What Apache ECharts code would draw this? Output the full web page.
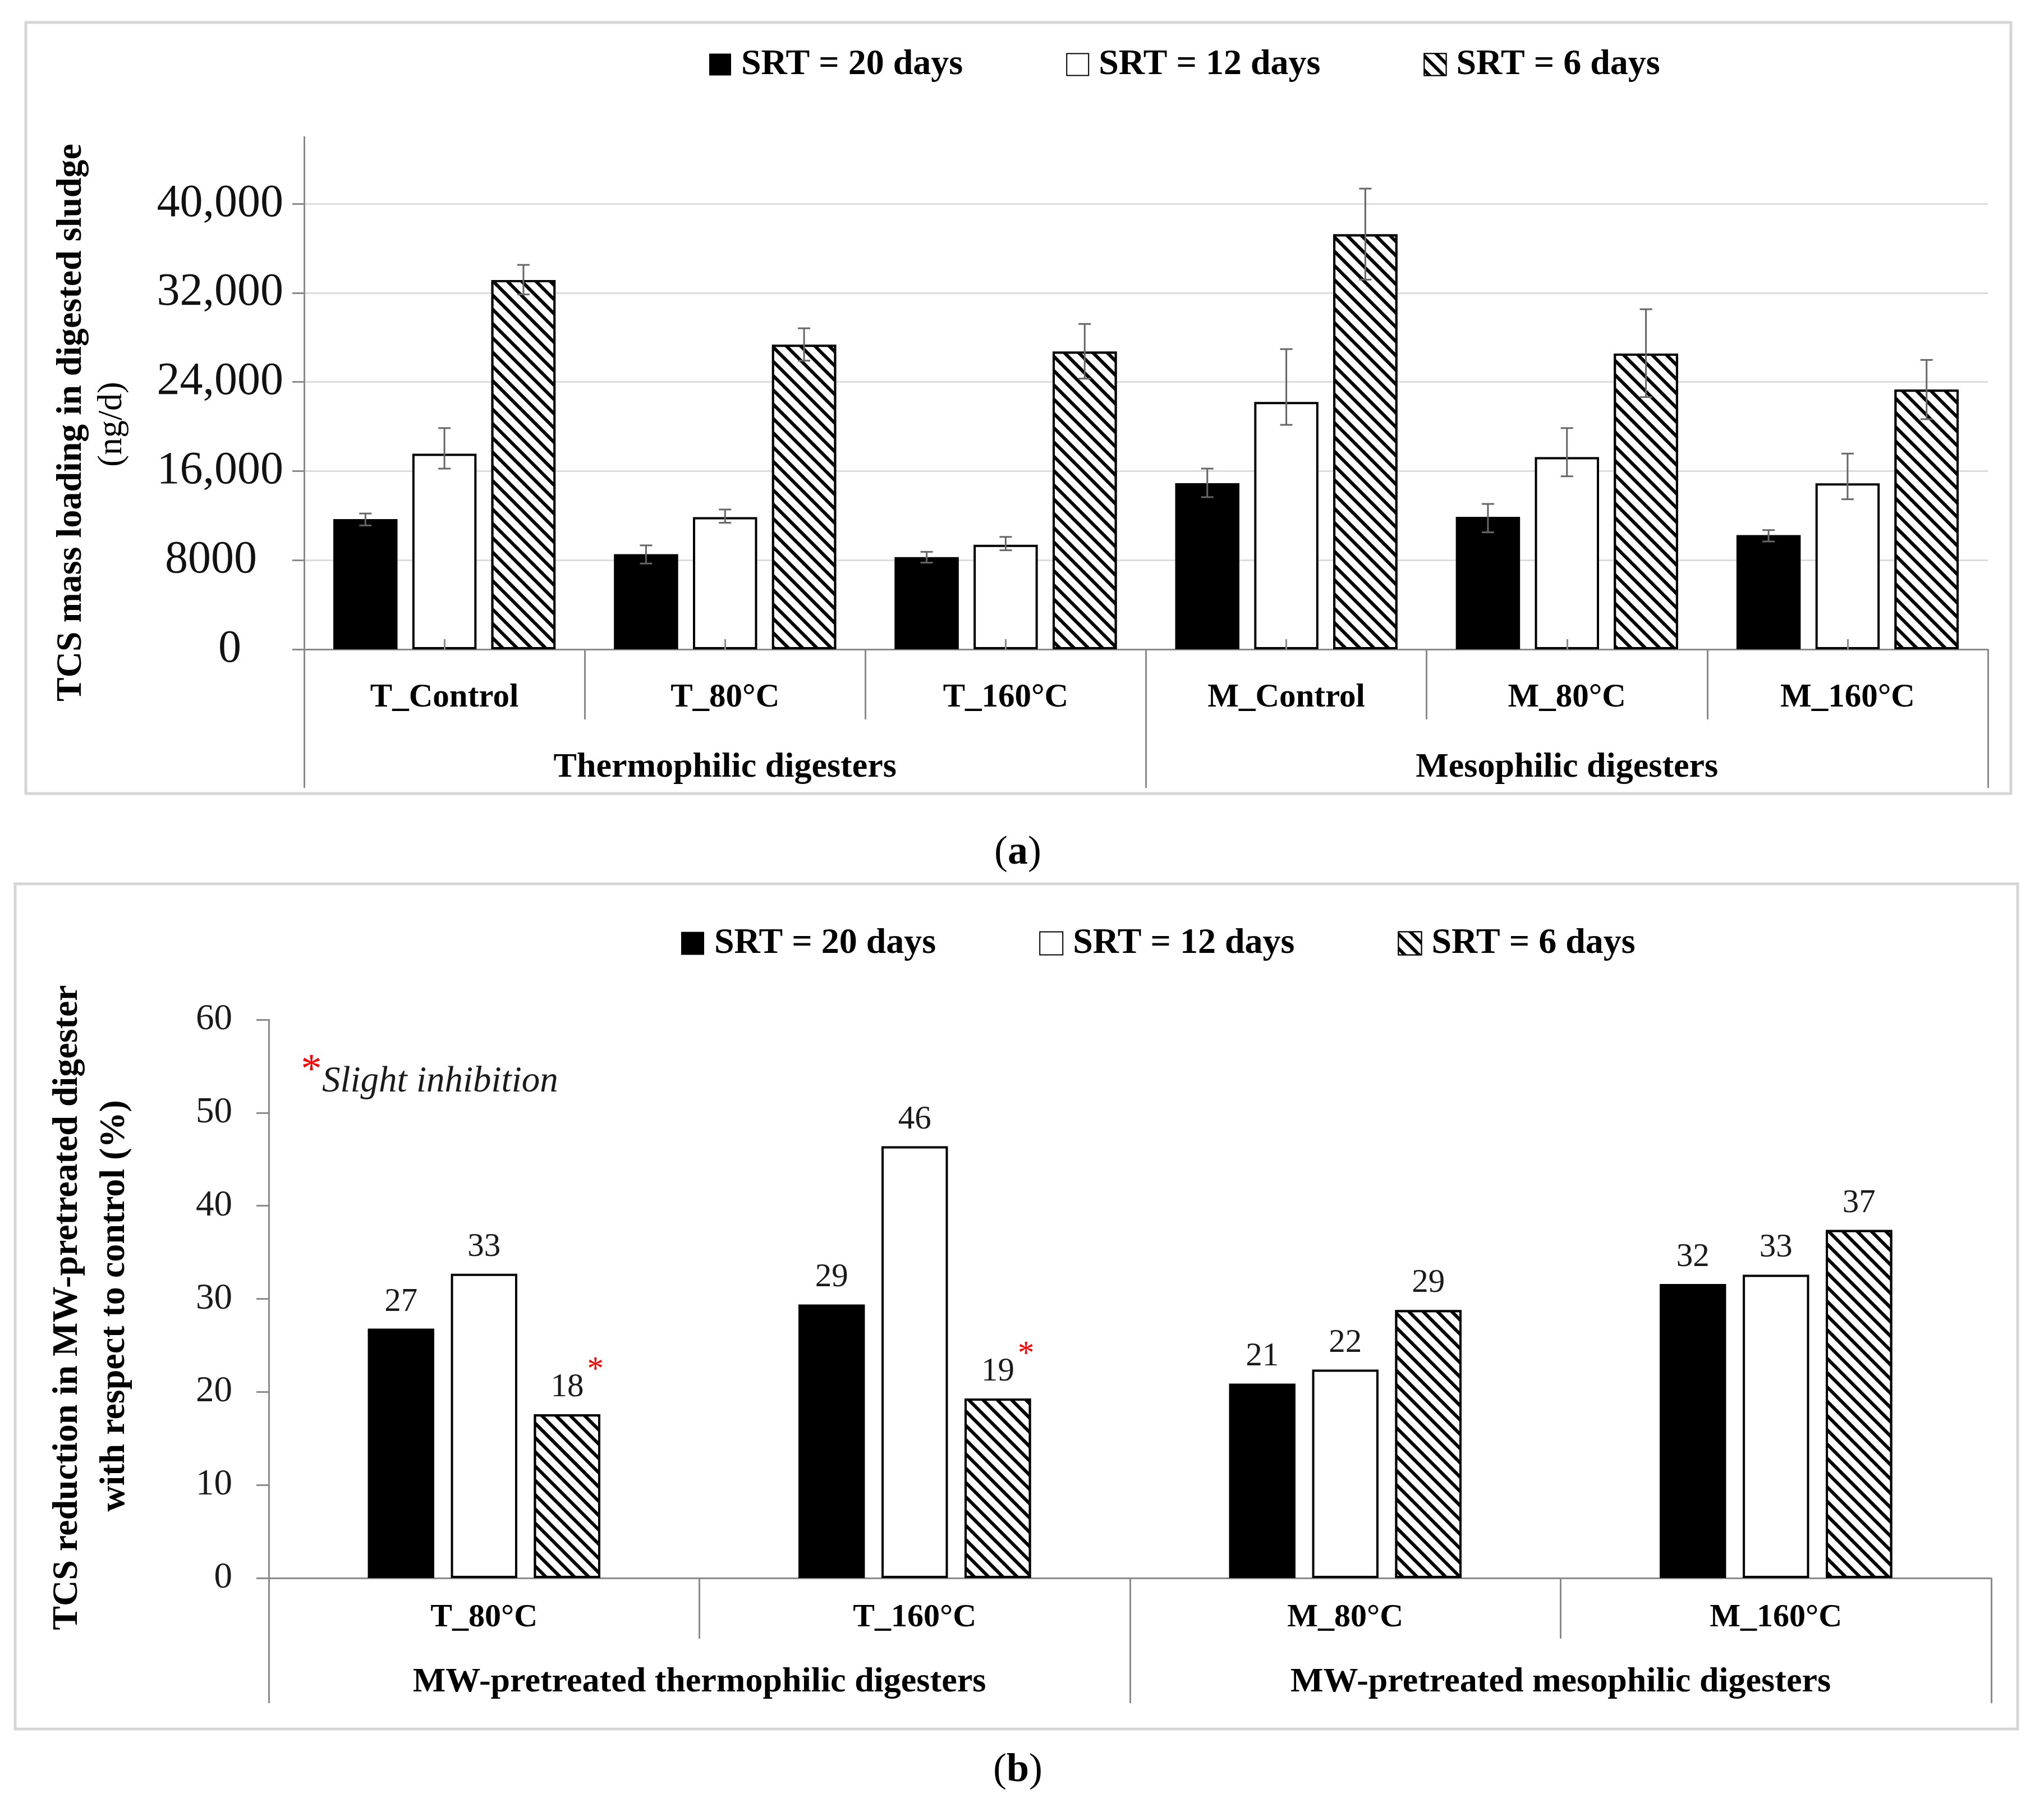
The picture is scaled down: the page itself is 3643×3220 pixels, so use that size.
<!DOCTYPE html>
<html>
<head>
<meta charset="utf-8">
<script src="https://cdn.jsdelivr.net/npm/echarts@6/dist/echarts.min.js"></script>
<style>
html,body{margin:0;padding:0;background:#fff;}
#chart{width:3643px;height:3220px;}
</style>
</head>
<body>
<div id="chart"></div>
<script>
// ---------- DATA ----------
const seriesNames = ['SRT = 20 days', 'SRT = 12 days', 'SRT = 6 days'];

// Panel (a)
const categoriesA = ['T_Control', 'T_80°C', 'T_160°C', 'M_Control', 'M_80°C', 'M_160°C'];
const groupsA = ['Thermophilic digesters', 'Mesophilic digesters'];
const srt20A = [11690, 8540, 8280, 14910, 11890, 10250];
const srt20PlusA = [500, 790, 470, 1310, 1160, 450];
const srt20MinusA = [570, 840, 500, 1250, 1390, 570];
const srt12A = [17560, 11860, 9390, 22210, 17260, 14900];
const srt12PlusA = [2300, 690, 700, 4740, 2600, 2670];
const srt12MinusA = [1340, 500, 500, 2060, 1730, 1430];
const srt6A = [33150, 27340, 26730, 37260, 26550, 23310];
const srt6PlusA = [1360, 1480, 2480, 4100, 3980, 2670];
const srt6MinusA = [1290, 1430, 2430, 4070, 3910, 2650];
const yTicksA = [0, 8000, 16000, 24000, 32000, 40000];

// Panel (b)
const categoriesB = ['T_80°C', 'T_160°C', 'M_80°C', 'M_160°C'];
const groupsB = ['MW-pretreated thermophilic digesters', 'MW-pretreated mesophilic digesters'];
const srt20B = [26.8, 29.4, 20.9, 31.6];
const srt12B = [32.7, 46.4, 22.4, 32.6];
const srt6B = [17.6, 19.3, 28.8, 37.4];
const inhibitedB = [true, true, false, false];

// ---------- STYLE ----------
const FONT = "'Liberation Serif', 'Times New Roman', serif";
const GRAY = '#8a8a8a';
const hatch = {
  symbol: 'rect', symbolSize: 1, dashArrayX: [1, 0], dashArrayY: [6, 12],
  rotation: Math.PI / 4, color: '#000', backgroundColor: '#fff'
};
const barStyles = [
  { color: '#000', borderColor: '#000', borderWidth: 0 },
  { color: '#fff', borderColor: '#000', borderWidth: 4 },
  { color: '#fff', borderColor: '#000', borderWidth: 4, decal: hatch }
];
const GAP_A = 0.23, CATGAP_A = 0.208;
const GAP_B = 0.25, CATGAP_B = 0.46;

function errorBars(name, vals, plus, minus, slot) {
  return {
    type: 'custom', name: name, xAxisIndex: 0, yAxisIndex: 0, z: 6, silent: true,
    encode: { x: 0, y: 1 },
    data: vals.map((v, i) => [i, v, plus[i], minus[i]]),
    renderItem: function (params, api) {
      const i = api.value(0), v = api.value(1), ep = api.value(2), em = api.value(3);
      const band = api.size([1, 0])[0];
      const w = band * (1 - CATGAP_A) / (3 + 2 * GAP_A);
      const dx = (slot - 1) * w * (1 + GAP_A);
      const hi = api.coord([i, v + ep]), lo = api.coord([i, v - em]);
      const x = hi[0] + dx, cap = 11;
      const st = { stroke: '#666666', lineWidth: 3 };
      return {
        type: 'group', children: [
          { type: 'line', shape: { x1: x, y1: hi[1], x2: x, y2: lo[1] }, style: st },
          { type: 'line', shape: { x1: x - cap, y1: hi[1], x2: x + cap, y2: hi[1] }, style: st },
          { type: 'line', shape: { x1: x - cap, y1: lo[1], x2: x + cap, y2: lo[1] }, style: st }
        ]
      };
    }
  };
}

function labelB(slot) {
  return {
    show: true, position: 'top', distance: 18,
    formatter: function (p) {
      const r = Math.round(p.value);
      if (slot === 2 && inhibitedB[p.dataIndex]) return '{v|' + r + '}{s|*}';
      return '{n|' + r + '}';
    },
    rich: {
      n: { fontSize: 59, fontFamily: FONT, color: '#1a1a1a' },
      v: { fontSize: 59, fontFamily: FONT, color: '#1a1a1a', verticalAlign: 'bottom', padding: [0, 0, 0, 36] },
      s: { fontSize: 59, fontFamily: FONT, color: '#ff0000', verticalAlign: 'bottom', padding: [0, 0, 30, 6] }
    }
  };
}

function fmtA(v) {
  if (v === 0) return '{z|0}';
  if (v < 10000) return '{e|' + v + '}';
  return v.toLocaleString('en-US');
}

const valsA = [srt20A, srt12A, srt6A];
const plusA = [srt20PlusA, srt12PlusA, srt6PlusA];
const minusA = [srt20MinusA, srt12MinusA, srt6MinusA];
const valsB = [srt20B, srt12B, srt6B];

const series = [];
valsA.forEach((vals, k) => {
  series.push({
    type: 'bar', name: seriesNames[k], xAxisIndex: 0, yAxisIndex: 0,
    data: vals, itemStyle: barStyles[k],
    barGap: (GAP_A * 100) + '%', barCategoryGap: (CATGAP_A * 100) + '%', z: 2
  });
});
valsA.forEach((vals, k) => series.push(errorBars('err' + k, vals, plusA[k], minusA[k], k)));
valsB.forEach((vals, k) => {
  series.push({
    type: 'bar', name: seriesNames[k], xAxisIndex: 3, yAxisIndex: 1,
    data: vals, itemStyle: barStyles[k], label: labelB(k),
    barGap: (GAP_B * 100) + '%', barCategoryGap: (CATGAP_B * 100) + '%', z: 2
  });
});

const lineGray = { color: GRAY, width: 3 };
const catLabel = (size, margin) => ({ show: true, interval: 0, fontSize: size, fontWeight: 'bold', fontFamily: FONT, color: '#000', margin: margin });

const option = {
  animation: false,
  backgroundColor: '#fff',
  grid: [
    { left: 542, right: 100, top: 244, bottom: 2063 },
    { left: 479, right: 94, top: 1817, bottom: 408 }
  ],
  legend: [
    {
      data: seriesNames, left: 1264, top: 83, padding: 0, orient: 'horizontal',
      itemWidth: 39, itemHeight: 39, itemGap: 184, icon: 'rect',
      textStyle: { fontSize: 64, fontWeight: 'bold', fontFamily: FONT, color: '#000', lineHeight: 40, padding: [0, 0, 0, 13] },
      selectedMode: false
    },
    {
      data: seriesNames, left: 1214, top: 1649, padding: 0, orient: 'horizontal',
      itemWidth: 41, itemHeight: 41, itemGap: 184, icon: 'rect',
      textStyle: { fontSize: 64, fontWeight: 'bold', fontFamily: FONT, color: '#000', lineHeight: 42, padding: [0, 0, 0, 13] },
      selectedMode: false
    }
  ],
  xAxis: [
    { // 0: categories (a)
      gridIndex: 0, type: 'category', data: categoriesA, position: 'bottom',
      axisLine: { show: true, lineStyle: lineGray },
      axisTick: { show: true, interval: 0, length: 125, lineStyle: lineGray },
      axisLabel: catLabel(59, 57)
    },
    { // 1: groups (a)
      gridIndex: 0, type: 'category', data: groupsA, position: 'bottom',
      axisLine: { show: false },
      axisTick: { show: true, interval: 0, length: 247, lineStyle: lineGray },
      axisLabel: catLabel(62, 180)
    },
    { // 2: inner center ticks (a)
      gridIndex: 0, type: 'category', data: categoriesA, position: 'bottom', z: 5,
      axisLine: { show: false },
      axisTick: { show: true, inside: true, alignWithLabel: true, interval: 0, length: 18, lineStyle: lineGray },
      axisLabel: { show: false }
    },
    { // 3: categories (b)
      gridIndex: 1, type: 'category', data: categoriesB, position: 'bottom',
      axisLine: { show: true, lineStyle: lineGray },
      axisTick: { show: true, interval: 0, length: 108, lineStyle: lineGray },
      axisLabel: catLabel(58, 42)
    },
    { // 4: groups (b)
      gridIndex: 1, type: 'category', data: groupsB, position: 'bottom',
      axisLine: { show: false },
      axisTick: { show: true, interval: 0, length: 223, lineStyle: lineGray },
      axisLabel: catLabel(62, 155)
    }
  ],
  yAxis: [
    {
      gridIndex: 0, type: 'value', min: 0, max: 46000, interval: 8000,
      axisLine: { show: true, lineStyle: lineGray },
      axisTick: { show: true, length: 21, lineStyle: lineGray, customValues: yTicksA },
      axisLabel: {
        fontSize: 82, fontFamily: FONT, color: '#111', margin: 37,
        customValues: yTicksA, formatter: fmtA,
        rich: {
          z: { fontSize: 82, fontFamily: FONT, color: '#111', padding: [0, 75, 0, 0] },
          e: { fontSize: 82, fontFamily: FONT, color: '#111', padding: [0, 47, 0, 0] }
        }
      },
      splitLine: { show: true, showMinLine: false, lineStyle: { color: '#dcdcdc', width: 3 } }
    },
    {
      gridIndex: 1, type: 'value', min: 0, max: 60, interval: 10,
      axisLine: { show: true, lineStyle: lineGray },
      axisTick: { show: true, length: 22, lineStyle: lineGray },
      axisLabel: { fontSize: 65, fontFamily: FONT, color: '#1a1a1a', margin: 65 },
      splitLine: { show: false }
    }
  ],
  graphic: [
    { type: 'rect', silent: true, z: -10, shape: { x: 46, y: 40, width: 3538, height: 1374 }, style: { fill: 'transparent', stroke: '#d6d6d6', lineWidth: 5 } },
    { type: 'rect', silent: true, z: -10, shape: { x: 27, y: 1575, width: 3569, height: 1506 }, style: { fill: 'transparent', stroke: '#d6d6d6', lineWidth: 5 } },
    { type: 'text', x: 127, y: 753, rotation: Math.PI / 2, style: { text: 'TCS mass loading in digested sludge', fontSize: 64, fontWeight: 'bold', fontFamily: FONT, fill: '#000', align: 'center', verticalAlign: 'middle' } },
    { type: 'text', x: 200, y: 756, rotation: Math.PI / 2, style: { text: '(ng/d)', fontSize: 62, fontFamily: FONT, fill: '#000', align: 'center', verticalAlign: 'middle' } },
    { type: 'text', x: 120, y: 2330, rotation: Math.PI / 2, style: { text: 'TCS reduction in MW-pretreated digester', fontSize: 64, fontWeight: 'bold', fontFamily: FONT, fill: '#000', align: 'center', verticalAlign: 'middle' } },
    { type: 'text', x: 204, y: 2327, rotation: Math.PI / 2, style: { text: 'with respect to control (%)', fontSize: 64, fontWeight: 'bold', fontFamily: FONT, fill: '#000', align: 'center', verticalAlign: 'middle' } },
    { type: 'text', x: 555, y: 1910, style: { text: '*', fontSize: 74, fontFamily: FONT, fill: '#ff0000', align: 'center', verticalAlign: 'middle' } },
    { type: 'text', x: 574, y: 1928, style: { text: 'Slight inhibition', fontSize: 65, fontStyle: 'italic', fontFamily: FONT, fill: '#1a1a1a', align: 'left', verticalAlign: 'middle' } },
    { type: 'text', x: 1814, y: 1520, style: { text: '{p|(}{b|a}{p|)}', align: 'center', verticalAlign: 'middle', rich: { p: { fontSize: 72, fontFamily: FONT, fill: '#000' }, b: { fontSize: 72, fontWeight: 'bold', fontFamily: FONT, fill: '#000' } } } },
    { type: 'text', x: 1814, y: 3155, style: { text: '{p|(}{b|b}{p|)}', align: 'center', verticalAlign: 'middle', rich: { p: { fontSize: 72, fontFamily: FONT, fill: '#000' }, b: { fontSize: 72, fontWeight: 'bold', fontFamily: FONT, fill: '#000' } } } }
  ],
  series: series
};

const chart = echarts.init(document.getElementById('chart'), null, { renderer: 'canvas' });
chart.setOption(option);
</script>
</body>
</html>
